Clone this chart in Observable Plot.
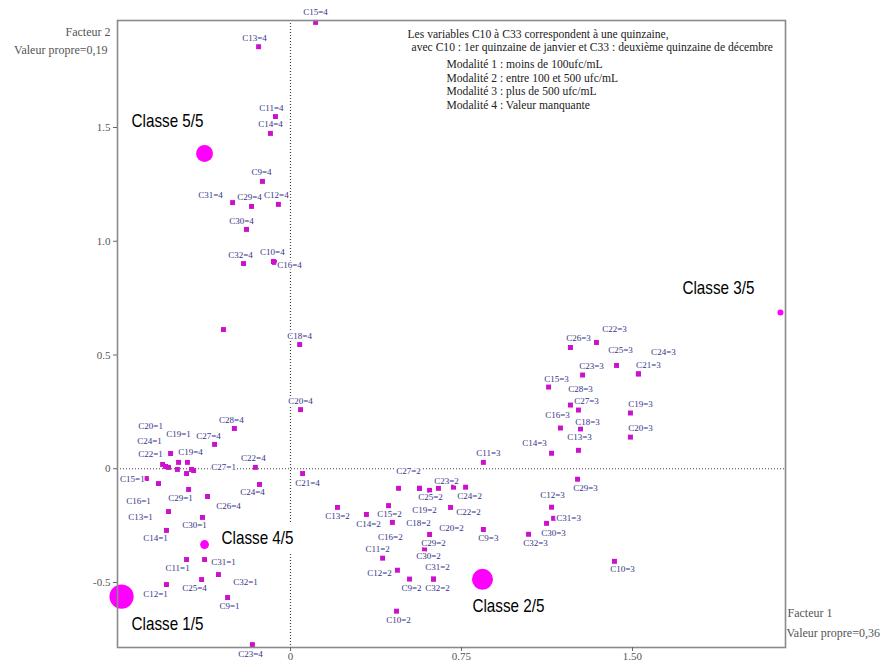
<!DOCTYPE html>
<html lang="fr">
<head>
<meta charset="utf-8">
<script src="https://cdn.jsdelivr.net/npm/d3@7"></script>
<script src="https://cdn.jsdelivr.net/npm/@observablehq/plot@0.6"></script>
<style>
  html, body { margin: 0; padding: 0; background: #fff; }
  #chart { width: 885px; height: 662px; }
</style>
</head>
<body>
<div id="chart"></div>
<script>
// Modalités des variables C9..C32 sur le plan factoriel (facteur 1 × facteur 2)
const modalites = [
  // modalité 4 : valeur manquante
  "C15=4", "C13=4", "C11=4", "C14=4", "C9=4", "C31=4", "C29=4", "C12=4", "C30=4", "C32=4",
  "C10=4", "C16=4", "", "C18=4", "C20=4", "C28=4", "C27=4", "C19=4", "C22=4", "C24=4",
  "C26=4", "C21=4", "C25=4", "C23=4",
  // modalité 1 : moins de 100 ufc/mL
  "C20=1", "C24=1", "C22=1", "", "C19=1", "", "", "", "C27=1", "C15=1",
  "C16=1", "C29=1", "C13=1", "C30=1", "C14=1", "C11=1", "C31=1", "C32=1", "C12=1", "C9=1",
  // modalité 2 : entre 100 et 500 ufc/mL
  "C27=2", "C19=2", "C18=2", "C23=2", "C25=2", "C20=2", "C24=2", "C13=2", "C14=2", "C15=2",
  "C16=2", "C22=2", "C29=2", "C30=2", "C11=2", "C12=2", "C31=2", "C32=2", "C9=2", "C10=2",
  // modalité 3 : plus de 500 ufc/mL
  "C11=3", "C9=3", "C22=3", "C26=3", "C25=3", "C21=3", "C24=3", "C23=3", "C15=3", "C28=3",
  "C27=3", "C19=3", "C16=3", "C18=3", "C20=3", "C13=3", "C14=3", "C29=3", "C12=3", "C31=3",
  "C30=3", "C32=3", "C10=3"
];

const facteur1 = [
  0.110, -0.140, -0.066, -0.088, -0.123, -0.254, -0.171, -0.053, -0.193, -0.206,
  -0.075, -0.070, -0.294, 0.040, 0.044, -0.246, -0.333, -0.452, -0.154, -0.136,
  -0.364, 0.053, -0.390, -0.167,
  -0.561, -0.548, -0.535, -0.526, -0.491, -0.496, -0.456, -0.434, -0.425, -0.632,
  -0.579, -0.447, -0.535, -0.386, -0.544, -0.456, -0.377, -0.316, -0.544, -0.276,
  0.474, 0.566, 0.566, 0.649, 0.610, 0.715, 0.768, 0.206, 0.333, 0.430,
  0.447, 0.702, 0.610, 0.588, 0.404, 0.469, 0.627, 0.627, 0.522, 0.465,
  0.846, 0.846, 1.342, 1.228, 1.430, 1.526, 1.526, 1.281, 1.132, 1.228,
  1.263, 1.491, 1.184, 1.272, 1.491, 1.263, 1.145, 1.259, 1.145, 1.154,
  1.123, 1.044, 1.421
];

const facteur2 = [
  1.962, 1.855, 1.548, 1.474, 1.263, 1.170, 1.153, 1.162, 1.052, 0.902,
  0.911, 0.907, 0.612, 0.546, 0.260, 0.177, 0.107, 0.028, 0.006, -0.069,
  -0.122, -0.021, -0.487, -0.773,
  0.019, 0.010, 0.006, 0.067, 0.028, -0.003, -0.021, -0.003, -0.008, -0.043,
  -0.065, -0.091, -0.188, -0.214, -0.271, -0.399, -0.399, -0.465, -0.509, -0.566,
  -0.086, -0.086, -0.086, -0.086, -0.095, -0.081, -0.081, -0.170, -0.201, -0.162,
  -0.236, -0.170, -0.289, -0.353, -0.393, -0.446, -0.485, -0.485, -0.485, -0.626,
  0.028, -0.267, 0.555, 0.533, 0.454, 0.417, 0.417, 0.412, 0.359, 0.280,
  0.258, 0.245, 0.179, 0.175, 0.139, 0.081, 0.068, -0.046, -0.169, -0.218,
  -0.240, -0.288, -0.407
];

// Centres de classes et leur effectif relatif (%)
const classes = ["Classe 1/5", "Classe 2/5", "Classe 3/5", "Classe 4/5", "Classe 5/5"];
const classeF1 = [-0.741, 0.842, 2.149, -0.377, -0.377];
const classeF2 = [-0.562, -0.486, 0.687, -0.333, 1.386];
const classeEffectif = [41, 31, 2.5, 5.5, 20];

// Graduations
const ticksF1 = [0, 0.75, 1.5];
const ticksF2 = [-0.5, 0, 0.5, 1, 1.5];

// Mise en page des étiquettes : décalage en pixels [dx, dy] (par défaut au-dessus du point)
const decalageDefaut = [0, -9];
const decalages = {
  "C15=4": [0, -10], "C13=4": [-4, -9], "C11=4": [-4, -8], "C9=4": [-1, -9], "C31=4": [-22, -7],
  "C29=4": [-2, -9], "C12=4": [-2, -9], "C30=4": [-5, -8], "C32=4": [-3, -8], "C10=4": [-1, -9],
  "C16=4": [15, 3], "C18=4": [0, -8], "C20=4": [0, -8], "C28=4": [-3, -8], "C27=4": [-6, -8],
  "C19=4": [3, -10], "C22=4": [-2, -9], "C24=4": [-7, 8], "C26=4": [21, 10], "C21=4": [5, 10],
  "C25=4": [-7, 9], "C23=4": [-2, 9],
  "C20=1": [-12, -38], "C24=1": [-16, -25], "C22=1": [-18, -13], "C19=1": [0, -28], "C27=1": [30, -3],
  "C15=1": [-14, 1], "C16=1": [-20, 18], "C29=1": [-8, 9], "C13=1": [-28, 6], "C30=1": [-8, 8],
  "C14=1": [-11, 8], "C11=1": [-9, 9], "C31=1": [19, 3], "C32=1": [27, 8], "C12=1": [-11, 10],
  "C9=1": [2, 9],
  "C27=2": [10, -17], "C19=2": [5, 22], "C18=2": [-1, 35], "C23=2": [8, -7], "C25=2": [1, 7],
  "C20=2": [-2, 41], "C24=2": [4, 9], "C13=2": [0, 9], "C14=2": [2, 10], "C15=2": [1, 9],
  "C16=2": [-2, 15], "C22=2": [18, 5], "C29=2": [4, 9], "C30=2": [4, 7], "C11=2": [-5, -9],
  "C12=2": [-18, 3], "C31=2": [4, -12], "C32=2": [4, 9], "C9=2": [2, 9], "C10=2": [2, 9],
  "C11=3": [5, -9], "C9=3": [5, 9], "C22=3": [18, -13], "C26=3": [8, -9], "C25=3": [4, -15],
  "C21=3": [10, -9], "C24=3": [25, -22], "C23=3": [9, -9], "C15=3": [8, -8], "C28=3": [10, -16],
  "C27=3": [8, -9], "C19=3": [10, -9], "C16=3": [-3, -13], "C18=3": [7, -7], "C20=3": [10, -9],
  "C13=3": [1, -13], "C14=3": [-17, -10], "C29=3": [8, 9], "C12=3": [1, -12], "C31=3": [15, 0],
  "C30=3": [7, 10], "C32=3": [7, 9], "C10=3": [8, 8]
};
const decalagesClasses = {
  "Classe 1/5": [10, 27], "Classe 2/5": [-10, 27], "Classe 3/5": [-98, -25],
  "Classe 4/5": [17, -7], "Classe 5/5": [-73, -33]
};

const points = modalites.map((m, i) => ({m, f1: facteur1[i], f2: facteur2[i]}));
const centres = classes.map((c, i) => ({c, f1: classeF1[i], f2: classeF2[i], n: classeEffectif[i]}));

const serif = "'Liberation Serif', 'Times New Roman', serif";
const sans = "'Liberation Sans', Arial, sans-serif";

const etiquettes = points.filter(p => p.m !== "").map(p => {
  const [dx, dy] = decalages[p.m] || decalageDefaut;
  return Plot.text([p], {
    x: "f1", y: "f2", text: "m", dx, dy,
    fill: "#34348a", stroke: "white", strokeWidth: 3,
    fontFamily: serif, fontSize: 9
  });
});

const etiquettesClasses = centres.map(c => {
  const [dx, dy] = decalagesClasses[c.c];
  return Plot.text([c], {
    x: "f1", y: "f2", text: "c", dx, dy, textAnchor: "start",
    fill: "black", stroke: "white", strokeWidth: 18, strokeLinejoin: "miter",
    fontFamily: sans, fontSize: 19
  });
});

const chart = Plot.plot({
  width: 885,
  height: 662,
  marginLeft: 117,
  marginRight: 100,
  marginTop: 20,
  marginBottom: 15,
  style: {fontFamily: serif, fontSize: "11px", background: "white", color: "#555"},
  x: {domain: [-0.7588, 2.1711]},
  y: {domain: [-0.7857, 1.9703]},
  r: {type: "sqrt", domain: [0, 41], range: [0, 12.1]},
  marks: [
    Plot.ruleX([0], {stroke: "#444", strokeDasharray: "1 2", strokeWidth: 1.2}),
    Plot.ruleY([0], {stroke: "#444", strokeDasharray: "1 2", strokeWidth: 1.2}),
    Plot.dot(points, {x: "f1", y: "f2", symbol: "square", r: 2.8, fill: "#cc11cc", stroke: null}),
    ...etiquettes,
    Plot.dot(centres, {x: "f1", y: "f2", r: "n", fill: "#ff00ff", stroke: null}),
    ...etiquettesClasses,
    Plot.frame({stroke: "#8a8a8a", strokeWidth: 1.6}),
    Plot.axisX({
      ticks: ticksF1, tickFormat: d => d === 0 ? "0" : d.toFixed(2),
      tickSize: 4, tickPadding: 1, label: null, fontSize: 11, stroke: "#666", fill: "#555"
    }),
    Plot.axisY({
      ticks: ticksF2, tickFormat: d => d === 0 ? "0" : d.toFixed(1),
      tickSize: 4, tickPadding: 3, label: null, fontSize: 11, stroke: "#666", fill: "#555"
    }),
    // Titres des axes
    Plot.text(["Facteur 2"], {frameAnchor: "top-left", textAnchor: "end", dx: -7, dy: 7, fontSize: 12, fill: "#555"}),
    Plot.text(["Valeur propre=0,19"], {frameAnchor: "top-left", textAnchor: "end", dx: -10, dy: 25, fontSize: 12, fill: "#555"}),
    Plot.text(["Facteur 1"], {frameAnchor: "bottom-right", textAnchor: "start", dx: 2, dy: -31, fontSize: 12, fill: "#555"}),
    Plot.text(["Valeur propre=0,36"], {frameAnchor: "bottom-right", textAnchor: "start", dx: 1, dy: -11, fontSize: 12, fill: "#555"}),
    // Notice
    Plot.text(["Les variables C10 à C33 correspondent à une quinzaine,"],
      {frameAnchor: "top-left", textAnchor: "start", dx: 290, dy: 9, fontSize: 11.6, fill: "#222"}),
    Plot.text(["avec C10 : 1er quinzaine de janvier et C33 : deuxième quinzaine de décembre"],
      {frameAnchor: "top-left", textAnchor: "start", dx: 294, dy: 22, fontSize: 11.6, fill: "#222"}),
    Plot.text(["Modalité 1 : moins de 100ufc/mL\nModalité 2 : entre 100 et 500 ufc/mL\nModalité 3 : plus de 500 ufc/mL\nModalité 4 : Valeur manquante"],
      {frameAnchor: "top-left", textAnchor: "start", lineAnchor: "top", dx: 329, dy: 38, lineHeight: 1.17, fontSize: 11.6, fill: "#222"})
  ]
});

// Libellés de classes en caractères étroits
d3.select(chart).selectAll("text")
  .filter(function() { return this.textContent.startsWith("Classe"); })
  .attr("textLength", 72)
  .attr("lengthAdjust", "spacingAndGlyphs");

document.getElementById("chart").append(chart);
</script>
</body>
</html>
